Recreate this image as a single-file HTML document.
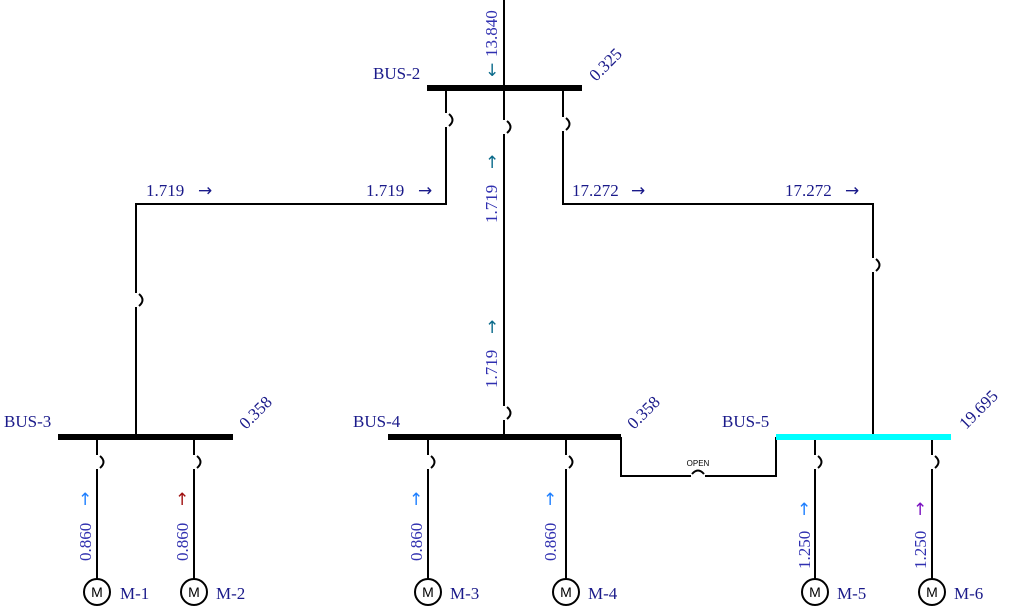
<!DOCTYPE html>
<html><head><meta charset="utf-8"><style>
html,body{margin:0;padding:0;background:#fff;}
svg{display:block;}
text{font-family:"Liberation Serif",serif;font-size:17px;fill:#1a1a8a;}
.v{fill:#3030b0;}
.a{font-family:"DejaVu Sans",sans-serif;font-size:17px;}
.m{font-family:"Liberation Sans",sans-serif;font-size:14px;fill:#000;}
</style></head><body>
<svg width="1022" height="613" viewBox="0 0 1022 613" xmlns="http://www.w3.org/2000/svg">
<g stroke="#000" stroke-width="2" fill="none">
<line x1="504" y1="0" x2="504" y2="437"/>
<polyline points="446,88 446,204 136,204 136,437"/>
<polyline points="563,88 563,204 873,204 873,437"/>
<polyline points="621,437 621,476 776,476 776,437"/>
<line x1="97" y1="437" x2="97" y2="579"/>
<line x1="194" y1="437" x2="194" y2="579"/>
<line x1="428" y1="437" x2="428" y2="579"/>
<line x1="566" y1="437" x2="566" y2="579"/>
<line x1="815" y1="437" x2="815" y2="579"/>
<line x1="932" y1="437" x2="932" y2="579"/>
</g>
<g fill="#fff">
<rect x="443" y="113" width="6" height="14"/>
<rect x="501" y="120" width="6" height="14"/>
<rect x="560" y="117" width="6" height="14"/>
<rect x="133" y="293" width="6" height="14"/>
<rect x="870" y="258" width="6" height="14"/>
<rect x="501" y="406" width="6" height="14"/>
<rect x="94" y="455" width="6" height="14"/>
<rect x="191" y="455" width="6" height="14"/>
<rect x="425" y="455" width="6" height="14"/>
<rect x="563" y="455" width="6" height="14"/>
<rect x="812" y="455" width="6" height="14"/>
<rect x="929" y="455" width="6" height="14"/>
<rect x="691" y="473" width="14" height="6"/>
</g>
<g stroke="#000" stroke-width="2" fill="none">
<path d="M449,114 Q456,120 449,126"/>
<path d="M507,121 Q514,127 507,133"/>
<path d="M566,118 Q573,124 566,130"/>
<path d="M139,294 Q146,300 139,306"/>
<path d="M876,259 Q883,265 876,271"/>
<path d="M507,407 Q514,413 507,419"/>
<path d="M100,456 Q107,462 100,468"/>
<path d="M197,456 Q204,462 197,468"/>
<path d="M431,456 Q438,462 431,468"/>
<path d="M569,456 Q576,462 569,468"/>
<path d="M818,456 Q825,462 818,468"/>
<path d="M935,456 Q942,462 935,468"/>
<path d="M692,474 Q698,467 704,474"/>
</g>
<rect x="427" y="85" width="155" height="6" fill="#000"/>
<rect x="58" y="434" width="175" height="6" fill="#000"/>
<rect x="388" y="434" width="233" height="6" fill="#000"/>
<rect x="776" y="434" width="175" height="6" fill="#00ffff"/>
<g stroke="#000" stroke-width="2" fill="#fff">
<circle cx="97" cy="592" r="13"/><circle cx="194" cy="592" r="13"/>
<circle cx="428" cy="592" r="13"/><circle cx="566" cy="592" r="13"/>
<circle cx="815" cy="592" r="13"/><circle cx="932" cy="592" r="13"/>
</g>
<g text-anchor="middle">
<text class="m" x="97" y="597">M</text><text class="m" x="194" y="597">M</text>
<text class="m" x="428" y="597">M</text><text class="m" x="566" y="597">M</text>
<text class="m" x="815" y="597">M</text><text class="m" x="932" y="597">M</text>
</g>
<text x="120" y="599">M-1</text><text x="216" y="599">M-2</text>
<text x="450" y="599">M-3</text><text x="588" y="599">M-4</text>
<text x="837" y="599">M-5</text><text x="954" y="599">M-6</text>
<text x="373" y="79">BUS-2</text>
<text x="4" y="427">BUS-3</text>
<text x="353" y="427">BUS-4</text>
<text x="722" y="427">BUS-5</text>
<text transform="translate(596,82) rotate(-45)">0.325</text>
<text transform="translate(246,430) rotate(-45)">0.358</text>
<text transform="translate(634,430) rotate(-45)">0.358</text>
<text transform="translate(966,430) rotate(-45)">19.695</text>
<text x="146" y="196">1.719</text><text class="a" x="198" y="196">→</text>
<text x="366" y="196">1.719</text><text class="a" x="418" y="196">→</text>
<text x="572" y="196">17.272</text><text class="a" x="631" y="196">→</text>
<text x="785" y="196">17.272</text><text class="a" x="845" y="196">→</text>
<text class="v" transform="translate(497,57) rotate(-90)">13.840</text>
<text class="a" x="485" y="76" style="fill:#0a6a8a">↓</text>
<text class="v" transform="translate(497,223) rotate(-90)">1.719</text>
<text class="a" x="485" y="168" style="fill:#0a6a8a">↑</text>
<text class="v" transform="translate(497,388) rotate(-90)">1.719</text>
<text class="a" x="485" y="333" style="fill:#0a6a8a">↑</text>
<text class="v" transform="translate(91,561) rotate(-90)">0.860</text>
<text class="a" x="78" y="505" style="fill:#1e7fff">↑</text>
<text class="v" transform="translate(188,561) rotate(-90)">0.860</text>
<text class="a" x="175" y="505" style="fill:#a01010">↑</text>
<text class="v" transform="translate(422,561) rotate(-90)">0.860</text>
<text class="a" x="409" y="505" style="fill:#1e7fff">↑</text>
<text class="v" transform="translate(556,561) rotate(-90)">0.860</text>
<text class="a" x="543" y="505" style="fill:#1e7fff">↑</text>
<text class="v" transform="translate(810,569) rotate(-90)">1.250</text>
<text class="a" x="797" y="515" style="fill:#1e7fff">↑</text>
<text class="v" transform="translate(926,569) rotate(-90)">1.250</text>
<text class="a" x="913" y="515" style="fill:#7a10c0">↑</text>
<text x="698" y="466" text-anchor="middle" style="font-family:'Liberation Sans',sans-serif;font-size:8px;fill:#000">OPEN</text>
</svg>
</body></html>
